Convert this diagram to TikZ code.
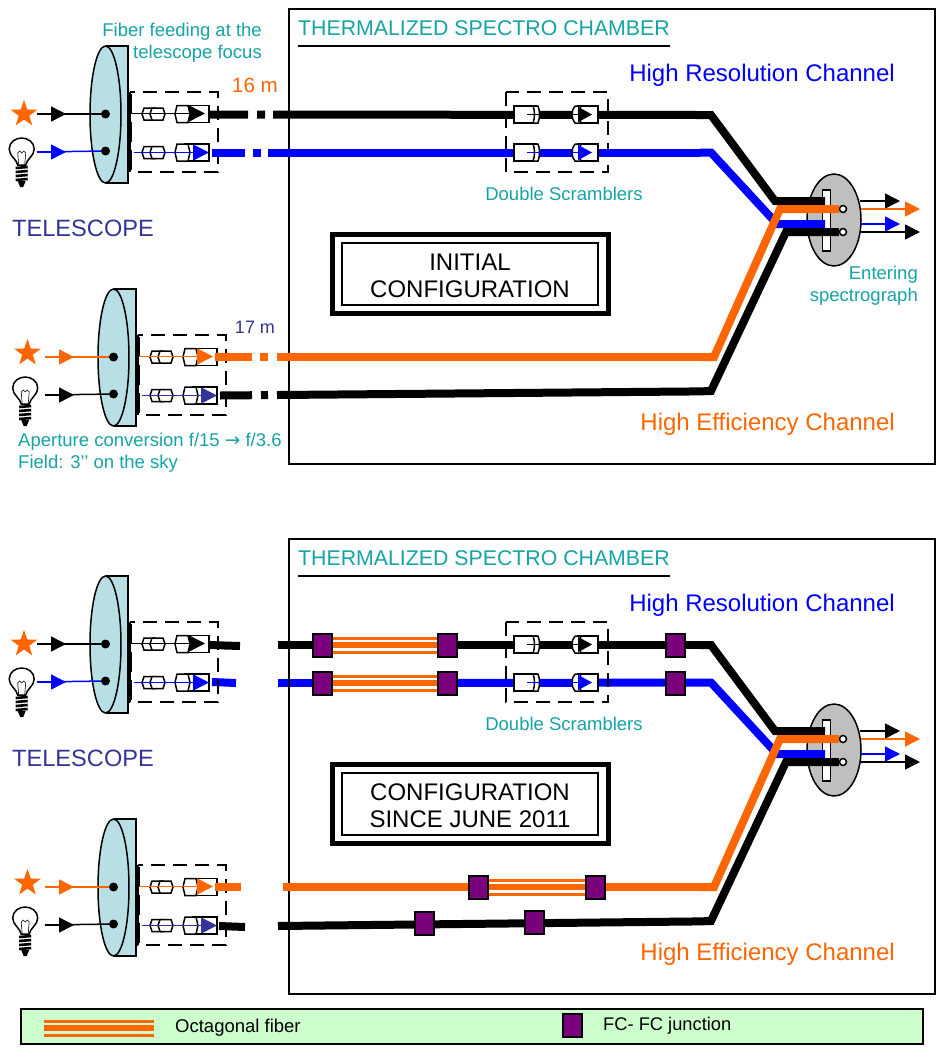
\documentclass[tikz,border=0pt]{standalone}
\usepackage{fontspec}
\setmainfont{Liberation Sans}
\newfontfamily\arrowfont{DejaVu Sans}
\usetikzlibrary{arrows.meta, shapes.geometric}
\definecolor{morange}{HTML}{FF6600}
\definecolor{mblue}{HTML}{0000FF}
\definecolor{mviolet}{HTML}{333399}
\definecolor{mteal}{HTML}{16A3A3}
\definecolor{mglass}{HTML}{B8DFE3}
\definecolor{mpurple}{HTML}{7B007B}
\definecolor{mgreen}{HTML}{CCFFCC}

\begin{document}
\begin{tikzpicture}[
        x=1pt, y=-1pt,
        big/.style={font=\fontsize{24}{27}\selectfont, inner sep=0pt},
        small/.style={font=\fontsize{18.5}{22}\selectfont, inner sep=0pt},
        fiber/.style={line width=8pt},
        thinray/.style={line width=1.5pt},
        ray/.style={thinray, -{Triangle[length=15pt, width=15pt]}},
        dot/.style={circle, fill=black, inner sep=0pt, minimum size=9pt},
        star5/.style={star, star points=5, star point ratio=2.5, fill=morange, inner sep=0pt, minimum size=28pt},
        hole/.style={circle, draw, fill=white, line width=1.5pt, inner sep=0pt, minimum size=7pt},
        junction/.style={rectangle, draw, fill=mpurple, line width=2pt, inner sep=0pt, minimum width=19pt, minimum height=23pt},
        octa/.style={morange, line width=3pt},
        octamid/.style={morange, line width=5.5pt},
        dashbox/.style={draw, line width=2pt, dash pattern=on 14pt off 8pt},
        bulb/.pic={
            \draw[line width=1.5pt] (-4,14) .. controls (-5,8) and (-12.5,5) .. (-12.5,-2)
                .. controls (-12.5,-9) and (-6,-13) .. (0,-13)
                .. controls (6,-13) and (12.5,-9) .. (12.5,-2)
                .. controls (12.5,5) and (5,8) .. (4,14) -- cycle;
            \draw[line width=0.6pt] (-3,14) -- (-4,2) -- (-2,0) -- (0,2) -- (2,0) -- (4,2) -- (3,14);
            \foreach \yy in {17,21,25,29}
                \draw[line width=2.6pt] (-6,\yy) -- (6,\yy-1);
            \fill (-4,30) -- (4,30) -- (1.5,36) -- (-1.5,36) -- cycle;
        },
        ferrules/.pic={
            \foreach \xa/\xb in {0/15, 8/23}
                \draw[line width=1.5pt, fill=white] (\xa+2,-6) -- (\xb-2,-6) -- (\xb,0) -- (\xb-2,6) -- (\xa+2,6) -- (\xa,0) -- cycle;
            \draw[line width=1.5pt, fill=white] (43,-8.5) rectangle (67,8.5);
            \draw[line width=1.5pt, fill=white] (35,-8.5) -- (46,-8.5) -- (48,0) -- (46,8.5) -- (35,8.5) -- (33,0) -- cycle;
        },
        scrambler/.pic={
            \draw[line width=1.5pt, fill=white] (514,-8.5) rectangle (536,8.5);
            \draw[line width=1.5pt, fill=white] (533,-8.5) -- (538,-8.5) .. controls (540,-4) and (540,4) .. (538,8.5) -- (533,8.5) .. controls (535,4) and (535,-4) .. (533,-8.5);
            \draw[line width=1.5pt, fill=white] (578,-8.5) rectangle (598,8.5);
            \draw[line width=1.5pt, fill=white] (575,-8.5) -- (581,-8.5) .. controls (579,-4) and (579,4) .. (581,8.5) -- (575,8.5) .. controls (571,4) and (571,-4) .. (575,-8.5);
        }
    ]
        \useasboundingbox (0,0) rectangle (936,1050);

        % Coordinates where the two panels' fibers enter the shared bends
        \foreach \dy in {0,530} {
            \begin{scope}[shift={(0,\dy)}]
                \coordinate (hrk\dy) at (700,115);
                \coordinate (hrb\dy) at (700,152.5);
                \coordinate (heo\dy) at (700,357);
                \coordinate (hek\dy) at (700,391.4);
            \end{scope}
        }

        % Junction places of the lower panel
        \coordinate (ja1) at (322,645);
        \coordinate (ja2) at (447,645);
        \coordinate (ja3) at (675,645);
        \coordinate (jb1) at (322,683);
        \coordinate (jb2) at (447,683);
        \coordinate (jb3) at (675,683);
        \coordinate (jc1) at (478,887);
        \coordinate (jc2) at (595,887);
        \coordinate (jd1) at (424,923);
        \coordinate (jd2) at (534,922);

        % Blue fiber of the lower panel runs under the chamber frame
        \coordinate (b2a) at (212,682);
        \coordinate (b2b) at (236,683);
        \coordinate (b2c) at (278,683);
        \draw[fiber, mblue] (b2a) -- (b2b);
        \draw[fiber, mblue] (b2c) -- (jb1);
        \draw[fiber, mblue] (jb2) -- (hrb530);

        % Chamber, labels and telescopes of both panels
        \foreach \dy/\cfg in {0/{INITIAL\\CONFIGURATION}, 530/{CONFIGURATION\\SINCE JUNE 2011}} {
            \begin{scope}[shift={(0,\dy)}]
                \draw[line width=2pt] (289,9) rectangle (935,464);
                \node[big, anchor=west, text=mteal, font=\fontsize{21.3}{25}\selectfont] (title\dy) at (298,28) {THERMALIZED SPECTRO CHAMBER};
                \coordinate (ula\dy) at (298,46);
                \coordinate (ulb\dy) at (670,46);
                \draw[line width=1.5pt] (ula\dy) -- (ulb\dy);
                \node[big, anchor=east, text=mblue] (hires\dy) at (895,75) {High Resolution Channel};
                \node[big, anchor=east, text=morange] (hieff\dy) at (895,424) {High Efficiency Channel};
                \node[big, anchor=west, text=mviolet, font=\fontsize{23.6}{27}\selectfont] (tele\dy) at (12,228) {TELESCOPE};
                \node[small, text=mteal] (dbl\dy) at (564,194) {Double Scramblers};

                % Configuration plate
                \draw[line width=5pt] (332.5,234.5) rectangle (608.5,313.5);
                \draw[line width=2pt] (342,243) rectangle (598,305);
                \node[big, align=center] (cfg\dy) at (470,276) {\cfg};

                % Dashed box around the two scramblers
                \draw[dashbox] (505.5,92) rectangle (608,172);

                % The two telescope units
                \foreach \u/\ux/\uy/\sx/\sy/\ca/\cb/\cc/\cd in {
                    a/0/0/0/0/black/mblue/black/mblue,
                    b/8/243/3.5/239/morange/black/morange/mviolet} {
                    \node[star5] (star\u\dy) at (24+\sx,114+\sy) {};
                    \pic at (21.7+\sx,151+\sy) {bulb};
                    \begin{scope}[shift={(\ux,\uy)}]
                        \fill[mglass] (105.5,46) rectangle (128,183);
                        \draw[line width=1.5pt] (105.5,46) -- (128,46) -- (128,183) -- (105.5,183);
                        \draw[line width=1.5pt, fill=mglass] (105.5,114.5) ellipse (15.5 and 68.5);
                        \node[dot] (dota\u\dy) at (105.5,114) {};
                        \node[dot] (dotb\u\dy) at (105.5,151) {};
                        \coordinate (rya\u\dy) at (37,114);
                        \coordinate (ryb\u\dy) at (37,152);
                        \draw[thinray, \ca] (rya\u\dy) -- (dota\u\dy);
                        \draw[thinray, \cb] (ryb\u\dy) -- (dotb\u\dy);
                        \draw[ray, \ca] (rya\u\dy) -- ++(29,0);
                        \draw[ray, \cb] (ryb\u\dy) -- ++(29,0);

                        % Feed box with its connectors
                        \draw[dashbox] (130,92) rectangle (217.5,172);
                        \draw[line width=3pt, dash pattern=on 20pt off 8pt] (130,94) -- (130,170);
                        \pic at (142,114) {ferrules};
                        \pic at (142,152.5) {ferrules};
                        \coordinate (cna\u\dy) at (131,113.5);
                        \coordinate (cnb\u\dy) at (134,152.5);
                        \draw[thinray, \cc, -{Triangle[length=16pt, width=16pt]}] (cna\u\dy) -- ++(74,0);
                        \draw[thinray, \cd, -{Triangle[length=16pt, width=16pt]}] (cnb\u\dy) -- ++(75,0);
                    \end{scope}
                }
            \end{scope}
        }

        % Labels found only in the upper panel
        \node[small, align=right, anchor=north east, text=mteal] (feeding) at (262,23) {Fiber feeding at the\\telescope focus};
        \node[anchor=center, inner sep=0pt, text=morange, font=\fontsize{20.7}{24}\selectfont] (len16) at (255,85) {16 m};
        \node[anchor=center, inner sep=0pt, text=mviolet, font=\fontsize{18}{22}\selectfont] (len17) at (255,327) {17 m};
        \node[small, align=left, anchor=north west, text=mteal] (aperture) at (18,433) {Aperture conversion f/15 {\arrowfont →} f/3.6\\Field: 3’’ on the sky};
        \node[small, align=right, anchor=north east, text=mteal] (entering) at (918,266) {Entering\\spectrograph};

        % Upper panel fibers, broken on their way to the chamber
        \coordinate (k1a) at (209,114.5);
        \coordinate (b1a) at (212,152.5);
        \coordinate (o1a) at (215,357);
        \coordinate (k3a) at (220,395.5);
        \draw[fiber, dash pattern=on 39pt off 9pt on 8pt off 8pt on 700pt] (k1a) -- (hrk0);
        \draw[fiber, mblue, dash pattern=on 33pt off 8pt on 8pt off 7pt on 700pt] (b1a) -- (hrb0);
        \draw[fiber, morange, dash pattern=on 37pt off 8pt on 8pt off 9pt on 700pt] (o1a) -- (heo0);
        \draw[fiber, dash pattern=on 32pt off 9pt on 7pt off 9pt on 700pt] (k3a) -- (hek0);

        % Lower panel fibers, cut between telescope and chamber
        \coordinate (k2a) at (209,645);
        \coordinate (k2b) at (240,646);
        \coordinate (k2c) at (278,645);
        \coordinate (o2a) at (215,887);
        \coordinate (o2b) at (241,887);
        \coordinate (o2c) at (283,887);
        \coordinate (k4a) at (219,926);
        \coordinate (k4b) at (245,927);
        \coordinate (k4c) at (278,926);
        \draw[fiber] (k2a) -- (k2b);
        \draw[fiber] (k2c) -- (ja1);
        \draw[fiber] (ja2) -- (hrk530);
        \draw[fiber, morange] (o2a) -- (o2b);
        \draw[fiber, morange] (o2c) -- (jc1);
        \draw[fiber, morange] (jc2) -- (heo530);
        \draw[fiber] (k4a) -- (k4b);
        \draw[fiber] (k4c) -- (hek530);

        % Octagonal sections
        \foreach \ja/\jb in {ja1/ja2, jb1/jb2, jc1/jc2} {
            \draw[octamid] (\ja) -- (\jb);
            \draw[octa] ([yshift=7pt]\ja) -- ([yshift=7pt]\jb);
            \draw[octa] ([yshift=-7pt]\ja) -- ([yshift=-7pt]\jb);
        }

        % Spectrograph head and scramblers of both panels
        \foreach \dy in {0,530} {
            \begin{scope}[shift={(0,\dy)}]
                \foreach \sc/\yy/\col in {a/114.5/black, b/152.5/mblue} {
                    \pic at (0,\yy) {scrambler};
                    \coordinate (sca\sc\dy) at (527,\yy);
                    \coordinate (scb\sc\dy) at (592,\yy);
                    \draw[thinray, \col, -{Triangle[length=14pt, width=15pt]}] (sca\sc\dy) -- (scb\sc\dy);
                }

                \draw[line width=1.5pt, fill=black!25] (834,220) ellipse (27 and 46);
                \draw[line width=1.5pt, fill=white] (822.5,190) rectangle (830.5,251);
                \node[hole] (holea\dy) at (843,209) {};
                \node[hole] (holeb\dy) at (843,232) {};

                % Bends and the run into the slit
                \coordinate (ha\dy) at (711,115);
                \coordinate (hb\dy) at (775,201);
                \coordinate (hc\dy) at (825,201);
                \draw[fiber] (hrk\dy) -- (ha\dy) -- (hb\dy) -- (hc\dy);
                \coordinate (ba\dy) at (711,152.5);
                \coordinate (bb\dy) at (777,224);
                \coordinate (bc\dy) at (825,224);
                \draw[fiber, mblue] (hrb\dy) -- (ba\dy) -- (bb\dy) -- (bc\dy);
                \coordinate (oa\dy) at (714,357);
                \coordinate (ob\dy) at (780,209);
                \draw[fiber, morange] (heo\dy) -- (oa\dy) -- (ob\dy) -- (holea\dy.west);
                \coordinate (ka\dy) at (711,391);
                \coordinate (kb\dy) at (786,232);
                \draw[fiber] (hek\dy) -- (ka\dy) -- (kb\dy) -- (holeb\dy.west);

                % Light leaving the spectrograph
                \coordinate (oua\dy) at (860,201);
                \coordinate (oub\dy) at (861,209);
                \coordinate (ouc\dy) at (861,224);
                \coordinate (oud\dy) at (861,232);
                \draw[ray] (oua\dy) -- (900,201);
                \draw[ray, morange] (oub\dy) -- (920,209);
                \draw[ray, mblue] (ouc\dy) -- (900,224);
                \draw[ray] (oud\dy) -- (920,232);
            \end{scope}
        }

        % FC-FC junctions
        \foreach \j in {ja1,ja2,ja3,jb1,jb2,jb3,jc1,jc2,jd1,jd2}
            \node[junction] (N\j) at (\j) {};

        % Legend
        \draw[line width=2pt, fill=mgreen] (21,1009) rectangle (923,1044);
        \coordinate (lga) at (44,1028);
        \coordinate (lgb) at (154,1028);
        \draw[octamid] (lga) -- (lgb);
        \draw[octa] ([yshift=7pt]lga) -- ([yshift=7pt]lgb);
        \draw[octa] ([yshift=-7pt]lga) -- ([yshift=-7pt]lgb);
        \node[small, anchor=west] (lgoct) at (175,1028) {Octagonal fiber};
        \node[junction] (lgjun) at (572,1025) {};
        \node[anchor=west, inner sep=0pt, font=\fontsize{18.3}{21}\selectfont] (lgfc) at (603,1026) {FC- FC junction};

    \end{tikzpicture}
\end{document}
